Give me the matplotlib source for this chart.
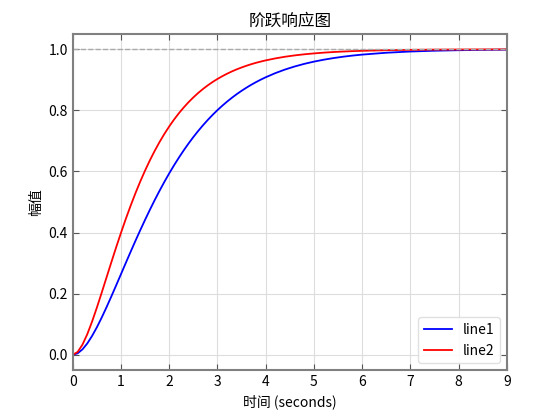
import matplotlib
matplotlib.use("Agg")
import matplotlib.pyplot as plt

plt.rcParams['font.family'] = ['Noto Sans CJK SC', 'DejaVu Sans']
plt.rcParams['axes.unicode_minus'] = False

# time points (s) and step response values
t = [0.0, 0.1, 0.2, 0.3, 0.4, 0.5, 0.6, 0.7, 0.8, 0.9,
     1.0, 1.1, 1.2, 1.3, 1.4, 1.5, 1.6, 1.7, 1.8, 1.9,
     2.0, 2.1, 2.2, 2.3, 2.4, 2.5, 2.6, 2.7, 2.8, 2.9,
     3.0, 3.1, 3.2, 3.3, 3.4, 3.5, 3.6, 3.7, 3.8, 3.9,
     4.0, 4.2, 4.4, 4.6, 4.8, 5.0, 5.2, 5.4, 5.6, 5.8,
     6.0, 6.5, 7.0, 7.5, 8.0, 8.5, 9.0]
line1 = [0.0, 0.0047, 0.0175, 0.0369, 0.0616, 0.0902, 0.1219, 0.1558, 0.1912, 0.2275,
         0.2642, 0.3010, 0.3374, 0.3732, 0.4082, 0.4422, 0.4751, 0.5068, 0.5372, 0.5663,
         0.5940, 0.6204, 0.6454, 0.6691, 0.6916, 0.7127, 0.7326, 0.7513, 0.7689, 0.7854,
         0.8009, 0.8153, 0.8288, 0.8414, 0.8532, 0.8641, 0.8743, 0.8838, 0.8926, 0.9008,
         0.9084, 0.9220, 0.9337, 0.9437, 0.9523, 0.9596, 0.9658, 0.9711, 0.9756, 0.9794,
         0.9826, 0.9887, 0.9927, 0.9953, 0.9970, 0.9981, 0.9988]
line2 = [0.0, 0.0091, 0.0329, 0.0672, 0.1087, 0.1548, 0.2036, 0.2534, 0.3032, 0.3522,
         0.3996, 0.4451, 0.4883, 0.5292, 0.5676, 0.6035, 0.6370, 0.6680, 0.6967, 0.7232,
         0.7476, 0.7701, 0.7907, 0.8095, 0.8268, 0.8425, 0.8570, 0.8701, 0.8821, 0.8930,
         0.9029, 0.9119, 0.9201, 0.9276, 0.9344, 0.9405, 0.9461, 0.9512, 0.9558, 0.9599,
         0.9637, 0.9702, 0.9756, 0.9800, 0.9836, 0.9865, 0.9890, 0.9910, 0.9926, 0.9940,
         0.9950, 0.9970, 0.9982, 0.9989, 0.9993, 0.9996, 0.9998]
steady_state = 1.0

fig = plt.figure(figsize=(5.6, 4.2), dpi=100)
ax = fig.add_axes([0.130, 0.119, 0.775, 0.800])

ax.plot(t, line1, color='blue', linewidth=1.3, label='line1')
ax.plot(t, line2, color='red', linewidth=1.3, label='line2')
ax.axhline(steady_state, color='#aaaaaa', linestyle='--', linewidth=1.0)

ax.set_xlim(0, 9)
ax.set_ylim(-0.05, 1.05)
ax.set_xticks(range(0, 10))
ax.set_yticks([0.0, 0.2, 0.4, 0.6, 0.8, 1.0])
ax.set_yticklabels(['0.0', '0.2', '0.4', '0.6', '0.8', '1.0'])

ax.set_title('阶跃响应图', fontsize=12)
ax.set_xlabel('时间 (seconds)', fontsize=10)
ax.set_ylabel('幅值', fontsize=10)

ax.grid(True, color='#dddddd', linewidth=0.8)
ax.tick_params(direction='in', top=True, right=True, labelsize=10,
               color='#555555', length=4)
for spine in ax.spines.values():
    spine.set_edgecolor('#808080')
    spine.set_linewidth(1.5)

ax.legend(loc='lower right', fontsize=10, framealpha=0.9, edgecolor='#dddddd')

fig.savefig('out.png', dpi=100)
